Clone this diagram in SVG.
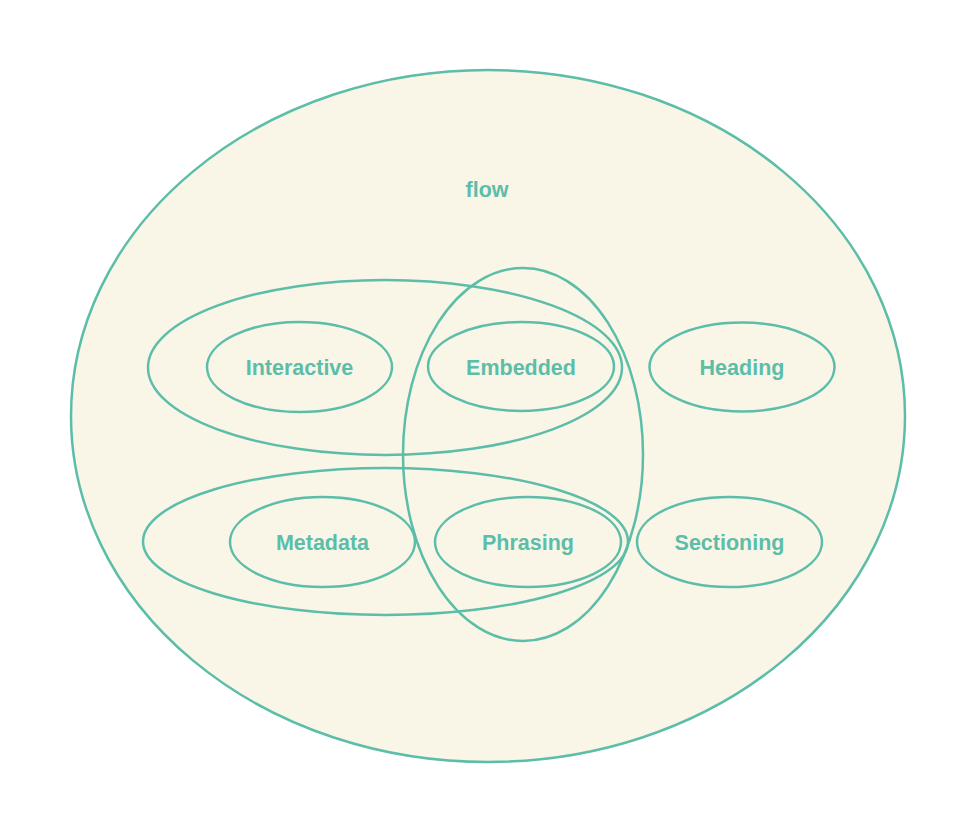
<svg xmlns="http://www.w3.org/2000/svg" width="976" height="833" viewBox="0 0 976 833">
<style>
.e{fill:none;stroke:#5cbda8;stroke-width:2.5}
.t{fill:#5cbda8;font-family:"Liberation Sans",Arial,sans-serif;font-weight:bold;font-size:21.5px;text-anchor:middle;dominant-baseline:central}
</style>
<rect width="976" height="833" fill="#ffffff"/>
<g id="flow">
<ellipse cx="488" cy="416" rx="417" ry="346" fill="#f9f6e8" stroke="#5cbda8" stroke-width="2.5"/>
<text class="t" x="487" y="190">flow</text>
</g>
<g id="groups">
<ellipse class="e" cx="385" cy="367.5" rx="237" ry="87.5"/>
<ellipse class="e" cx="385.5" cy="541.5" rx="242.5" ry="73.5"/>
<ellipse class="e" cx="523" cy="454.5" rx="120" ry="186.5"/>
</g>
<g id="interactive">
<ellipse class="e" cx="299.5" cy="367" rx="92.5" ry="45"/>
<text class="t" x="299.5" y="368">Interactive</text>
</g>
<g id="embedded">
<ellipse class="e" cx="521" cy="366.5" rx="93" ry="44.5"/>
<text class="t" x="521" y="368">Embedded</text>
</g>
<g id="heading">
<ellipse class="e" cx="742" cy="367" rx="92.5" ry="44.5"/>
<text class="t" x="742" y="368">Heading</text>
</g>
<g id="metadata">
<ellipse class="e" cx="322.5" cy="542" rx="92.5" ry="45"/>
<text class="t" x="322.5" y="543">Metadata</text>
</g>
<g id="phrasing">
<ellipse class="e" cx="528" cy="542" rx="93" ry="45"/>
<text class="t" x="528" y="543">Phrasing</text>
</g>
<g id="sectioning">
<ellipse class="e" cx="729.5" cy="542" rx="92.5" ry="45"/>
<text class="t" x="729.5" y="543">Sectioning</text>
</g>
</svg>
